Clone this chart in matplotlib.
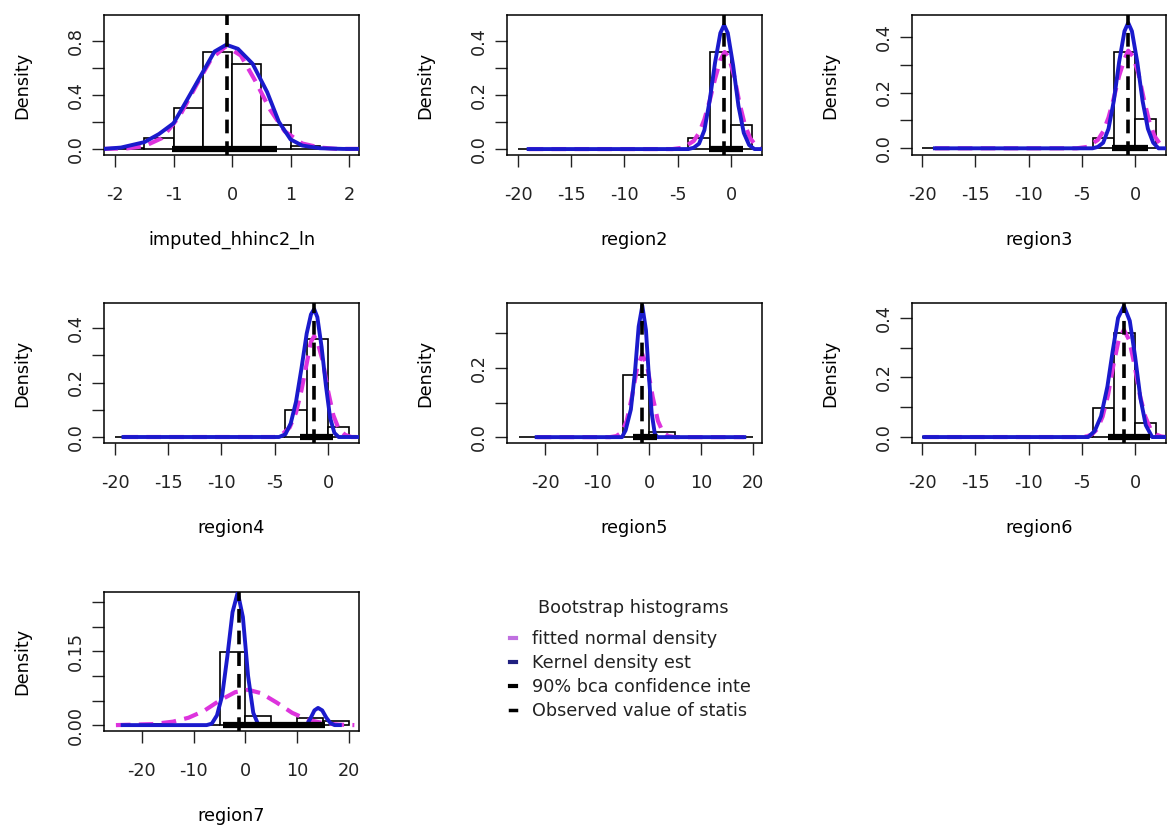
import matplotlib
matplotlib.use('Agg')
import matplotlib.pyplot as plt
from matplotlib.lines import Line2D

#plotting parameters
params = {'font.family': ['DejaVu Sans'],
          'font.size': 12.7,
          'text.color': '#222222',
          'xtick.color': '#222222',
          'ytick.color': '#222222',
          'axes.unicode_minus': False,
          'axes.linewidth': 1.1}
plt.rcParams.update(params)

#panel names
names = ['imputed_hhinc2_ln', 'region2', 'region3', 'region4', 'region5', 'region6', 'region7']

#histogram breaks and densities per panel
edges_small = [-2.0, -1.5, -1.0, -0.5, 0.0, 0.5, 1.0, 1.5]
edges_2 = [-20, -18, -16, -14, -12, -10, -8, -6, -4, -2, 0, 2]
edges_5 = [-25, -20, -15, -10, -5, 0, 5, 10, 15, 20]

p1_dens = [0.005, 0.08, 0.30, 0.72, 0.63, 0.18, 0.02]
p2_dens = [0, 0, 0, 0, 0, 0, 0, 0, 0.041, 0.36, 0.09]
p3_dens = [0, 0, 0, 0, 0, 0, 0, 0, 0.036, 0.346, 0.104]
p4_dens = [0, 0, 0, 0, 0, 0, 0, 0, 0.099, 0.358, 0.037]
p5_dens = [0, 0, 0, 0, 0.18, 0.015, 0, 0, 0]
p6_dens = [0, 0, 0, 0, 0, 0, 0, 0, 0.098, 0.35, 0.047]
p7_dens = [0, 0.003, 0, 0, 0.148, 0.019, 0.002, 0.015, 0.008]

#fitted normal density
p1_norm_x = [-2.2, -1.8, -1.5, -1.2, -0.9, -0.6, -0.35, -0.1, 0.15, 0.4, 0.65, 0.9, 1.2, 1.5, 1.8, 2.2]
p1_norm_y = [0.0, 0.004, 0.02, 0.08, 0.24, 0.48, 0.67, 0.76, 0.69, 0.50, 0.29, 0.13, 0.04, 0.01, 0.0, 0.0]
p2_norm_x = [-19.0, -5.5, -4.5, -3.5, -3.0, -2.5, -2.0, -1.5, -1.0, -0.6, -0.2, 0.3, 0.8, 1.3, 1.8, 2.4, 2.9]
p2_norm_y = [0, 0, 0.005, 0.03, 0.06, 0.11, 0.18, 0.26, 0.33, 0.36, 0.34, 0.27, 0.17, 0.09, 0.04, 0.01, 0.0]
p3_norm_x = [-18.8, -5.5, -4.5, -3.5, -3.0, -2.5, -2.0, -1.5, -1.0, -0.65, -0.2, 0.3, 0.8, 1.3, 1.8, 2.4, 2.9]
p3_norm_y = [0, 0, 0.005, 0.03, 0.06, 0.11, 0.18, 0.26, 0.32, 0.35, 0.33, 0.27, 0.18, 0.10, 0.045, 0.012, 0.0]
p4_norm_x = [-19.2, -5.0, -4.3, -3.6, -3.0, -2.5, -2.0, -1.6, -1.3, -1.0, -0.5, 0.0, 0.5, 1.0, 1.6, 2.2, 2.9]
p4_norm_y = [0, 0, 0.01, 0.035, 0.09, 0.17, 0.27, 0.35, 0.37, 0.35, 0.28, 0.17, 0.08, 0.03, 0.008, 0.0, 0.0]
p5_norm_x = [-21.6, -7.5, -6.3, -5.3, -4.3, -3.3, -2.3, -1.3, -0.3, 0.7, 1.7, 2.7, 3.7, 5.0, 18.3]
p5_norm_y = [0, 0, 0.003, 0.013, 0.047, 0.116, 0.20, 0.24, 0.20, 0.116, 0.047, 0.013, 0.003, 0, 0]
p6_norm_x = [-19.8, -5.5, -4.55, -4.05, -3.55, -3.05, -2.55, -2.05, -1.55, -1.05, -0.55, -0.05, 0.45, 0.95, 1.45, 1.95, 2.45, 2.9]
p6_norm_y = [0, 0, 0.002, 0.009, 0.027, 0.069, 0.14, 0.24, 0.325, 0.36, 0.325, 0.24, 0.14, 0.069, 0.027, 0.009, 0.002, 0]
p7_norm_x = [-25, -18, -14, -11, -8, -5, -2, 0.5, 3, 6, 9, 12, 15, 18, 21]
p7_norm_y = [0.0, 0.002, 0.007, 0.015, 0.029, 0.050, 0.067, 0.072, 0.065, 0.046, 0.025, 0.011, 0.004, 0.001, 0.0]

#kernel density estimate
p1_kde_x = [-2.2, -1.9, -1.5, -1.25, -1.0, -0.8, -0.55, -0.3, -0.1, 0.1, 0.35, 0.6, 0.8, 1.0, 1.2, 1.5, 1.9, 2.2]
p1_kde_y = [0.0, 0.01, 0.05, 0.11, 0.19, 0.34, 0.53, 0.72, 0.77, 0.74, 0.63, 0.42, 0.20, 0.07, 0.025, 0.005, 0.0, 0.0]
p2_kde_x = [-19.0, -4.0, -3.5, -3.0, -2.5, -2.0, -1.5, -1.0, -0.65, -0.3, 0.2, 0.7, 1.2, 1.7, 2.2, 2.9]
p2_kde_y = [0, 0, 0.005, 0.02, 0.07, 0.18, 0.32, 0.43, 0.46, 0.43, 0.31, 0.16, 0.06, 0.015, 0.0, 0.0]
p3_kde_x = [-18.8, -4.0, -3.5, -3.0, -2.5, -2.0, -1.5, -1.0, -0.65, -0.3, 0.2, 0.7, 1.2, 1.7, 2.2, 2.9]
p3_kde_y = [0, 0, 0.005, 0.02, 0.07, 0.17, 0.31, 0.42, 0.45, 0.42, 0.31, 0.17, 0.07, 0.02, 0.0, 0.0]
p4_kde_x = [-19.2, -4.6, -4.0, -3.5, -3.0, -2.5, -2.0, -1.6, -1.3, -1.0, -0.6, -0.2, 0.2, 0.6, 1.0, 2.9]
p4_kde_y = [0, 0, 0.01, 0.05, 0.13, 0.25, 0.38, 0.45, 0.47, 0.44, 0.33, 0.19, 0.07, 0.015, 0.0, 0.0]
p5_kde_x = [-21.6, -5.2, -4.5, -3.5, -2.7, -2.0, -1.3, -0.6, -0.1, 0.5, 1.1, 1.6, 18.3]
p5_kde_y = [0, 0, 0.02, 0.08, 0.19, 0.32, 0.38, 0.31, 0.19, 0.07, 0.01, 0.0, 0]
p6_kde_x = [-19.8, -4.4, -3.8, -3.2, -2.6, -2.1, -1.6, -1.05, -0.5, 0.0, 0.5, 1.0, 1.6, 2.9]
p6_kde_y = [0, 0, 0.02, 0.07, 0.17, 0.29, 0.40, 0.44, 0.39, 0.27, 0.13, 0.04, 0.0, 0.0]
p7_kde_x = [-23.7, -7.5, -6.5, -5.5, -4.5, -3.5, -2.5, -1.5, -0.5, 0.5, 1.5, 2.5, 11.8, 12.6, 13.3, 14.0, 14.8, 15.6, 16.4, 17.2, 18.2]
p7_kde_y = [0, 0, 0.003, 0.02, 0.06, 0.14, 0.23, 0.27, 0.22, 0.10, 0.025, 0.0, 0.0, 0.015, 0.03, 0.035, 0.03, 0.015, 0.004, 0.0, 0.0]

#observed value and 90% bca interval
obs = [-0.09, -0.66, -0.66, -1.31, -1.35, -1.03, -1.27]
ci_lo = [-1.02, -2.05, -2.15, -2.63, -3.1, -2.5, -4.4]
ci_hi = [0.76, 1.15, 1.2, 0.47, 1.5, 1.4, 15.3]

#axis limits and ticks
xlims = [(-2.19, 2.17), (-21.03, 2.91), (-20.95, 2.9), (-21.03, 2.91), (-27.3, 21.7), (-20.95, 2.9), (-27.3, 21.9)]
ylims = [(-0.045, 0.99), (-0.022, 0.497), (-0.024, 0.478), (-0.022, 0.492), (-0.017, 0.388), (-0.02, 0.45), (-0.012, 0.271)]
xt_small = [-2, -1, 0, 1, 2]
xt_neg = [-20, -15, -10, -5, 0]
xt_wide = [-20, -10, 0, 10, 20]
yt_1 = [0.0, 0.2, 0.4, 0.6, 0.8]
yl_1 = ['0.0', '', '0.4', '', '0.8']
yt_4 = [0.0, 0.1, 0.2, 0.3, 0.4]
yl_4 = ['0.0', '', '0.2', '', '0.4']
yt_5 = [0.0, 0.1, 0.2, 0.3]
yl_5 = ['0.0', '', '0.2', '']
yt_7 = [0.0, 0.05, 0.10, 0.15, 0.20, 0.25]
yl_7 = ['0.00', '', '', '0.15', '', '']

norm_col = '#dd33dd'
kde_col = '#1a1acc'

W, H = 1168., 832.
fig = plt.figure(figsize=(W/100, H/100), dpi=100)

cols = [(104, 359), (507, 762), (912, 1166)]
rows = [(15, 155), (303, 443), (592, 731)]


def panel(i, edges, dens, nx, ny, kx, ky, xt, yt, yl):
    x0, x1 = cols[i % 3]
    y0, y1 = rows[i // 3]
    ax = fig.add_axes([x0/W, 1-y1/H, (x1-x0)/W, (y1-y0)/H])
    widths = [b - a for a, b in zip(edges[:-1], edges[1:])]
    ax.bar(edges[:-1], dens, width=widths, align='edge', color='white',
           edgecolor='black', linewidth=1.2, zorder=1)
    ax.plot(nx, ny, color=norm_col, lw=3, ls=(0, (3.5, 2)), zorder=2)
    ax.plot(kx, ky, color=kde_col, lw=2.8, zorder=3)
    ax.plot([ci_lo[i], ci_hi[i]], [0, 0], color='black', lw=4.5, solid_capstyle='butt', zorder=4)
    ax.axvline(obs[i], color='black', lw=2.6, ls=(0, (3.8, 2.2)), zorder=5)
    ax.set_xlim(xlims[i])
    ax.set_ylim(ylims[i])
    ax.set_xticks(xt)
    ax.set_yticks(yt)
    ax.set_yticklabels(yl)
    ax.tick_params(length=8.5, width=1.0, direction='out')
    ax.tick_params(axis='x', pad=14)
    ax.tick_params(axis='y', pad=5)
    for lbl in ax.get_yticklabels():
        lbl.set_rotation(90)
        lbl.set_va('center')
    ax.set_xlabel(names[i])
    ax.xaxis.set_label_coords(0.5, -85./(y1-y0))
    ax.xaxis.label.set_va('center')
    ax.set_ylabel('Density')
    ax.yaxis.set_label_coords(-82./(x1-x0), 0.5)
    ax.yaxis.label.set_va('center')
    return ax


panel(0, edges_small, p1_dens, p1_norm_x, p1_norm_y, p1_kde_x, p1_kde_y, xt_small, yt_1, yl_1)
panel(1, edges_2, p2_dens, p2_norm_x, p2_norm_y, p2_kde_x, p2_kde_y, xt_neg, yt_4, yl_4)
panel(2, edges_2, p3_dens, p3_norm_x, p3_norm_y, p3_kde_x, p3_kde_y, xt_neg, yt_4, yl_4)
panel(3, edges_2, p4_dens, p4_norm_x, p4_norm_y, p4_kde_x, p4_kde_y, xt_neg, yt_4, yl_4)
panel(4, edges_5, p5_dens, p5_norm_x, p5_norm_y, p5_kde_x, p5_kde_y, xt_wide, yt_5, yl_5)
panel(5, edges_2, p6_dens, p6_norm_x, p6_norm_y, p6_kde_x, p6_kde_y, xt_neg, yt_4, yl_4)
panel(6, edges_5, p7_dens, p7_norm_x, p7_norm_y, p7_kde_x, p7_kde_y, xt_wide, yt_7, yl_7)

#legend in the empty slot
fig.text(633/W, 1-608/H, 'Bootstrap histograms', ha='center', va='center')
handles = [Line2D([0], [0], color='#c070e0', lw=3),
           Line2D([0], [0], color='#202080', lw=3),
           Line2D([0], [0], color='black', lw=3),
           Line2D([0], [0], color='black', lw=2.5)]
labels = ['fitted normal density', 'Kernel density est',
          '90% bca confidence inte', 'Observed value of statis']
fig.legend(handles, labels, loc='upper left',
           bbox_to_anchor=(510/W, 1-630/H), frameon=False, handlelength=0.35,
           handletextpad=0.9, labelspacing=0.34, borderpad=0, borderaxespad=0,
           fontsize=12.7)

fig.savefig('out.png', dpi=100)
